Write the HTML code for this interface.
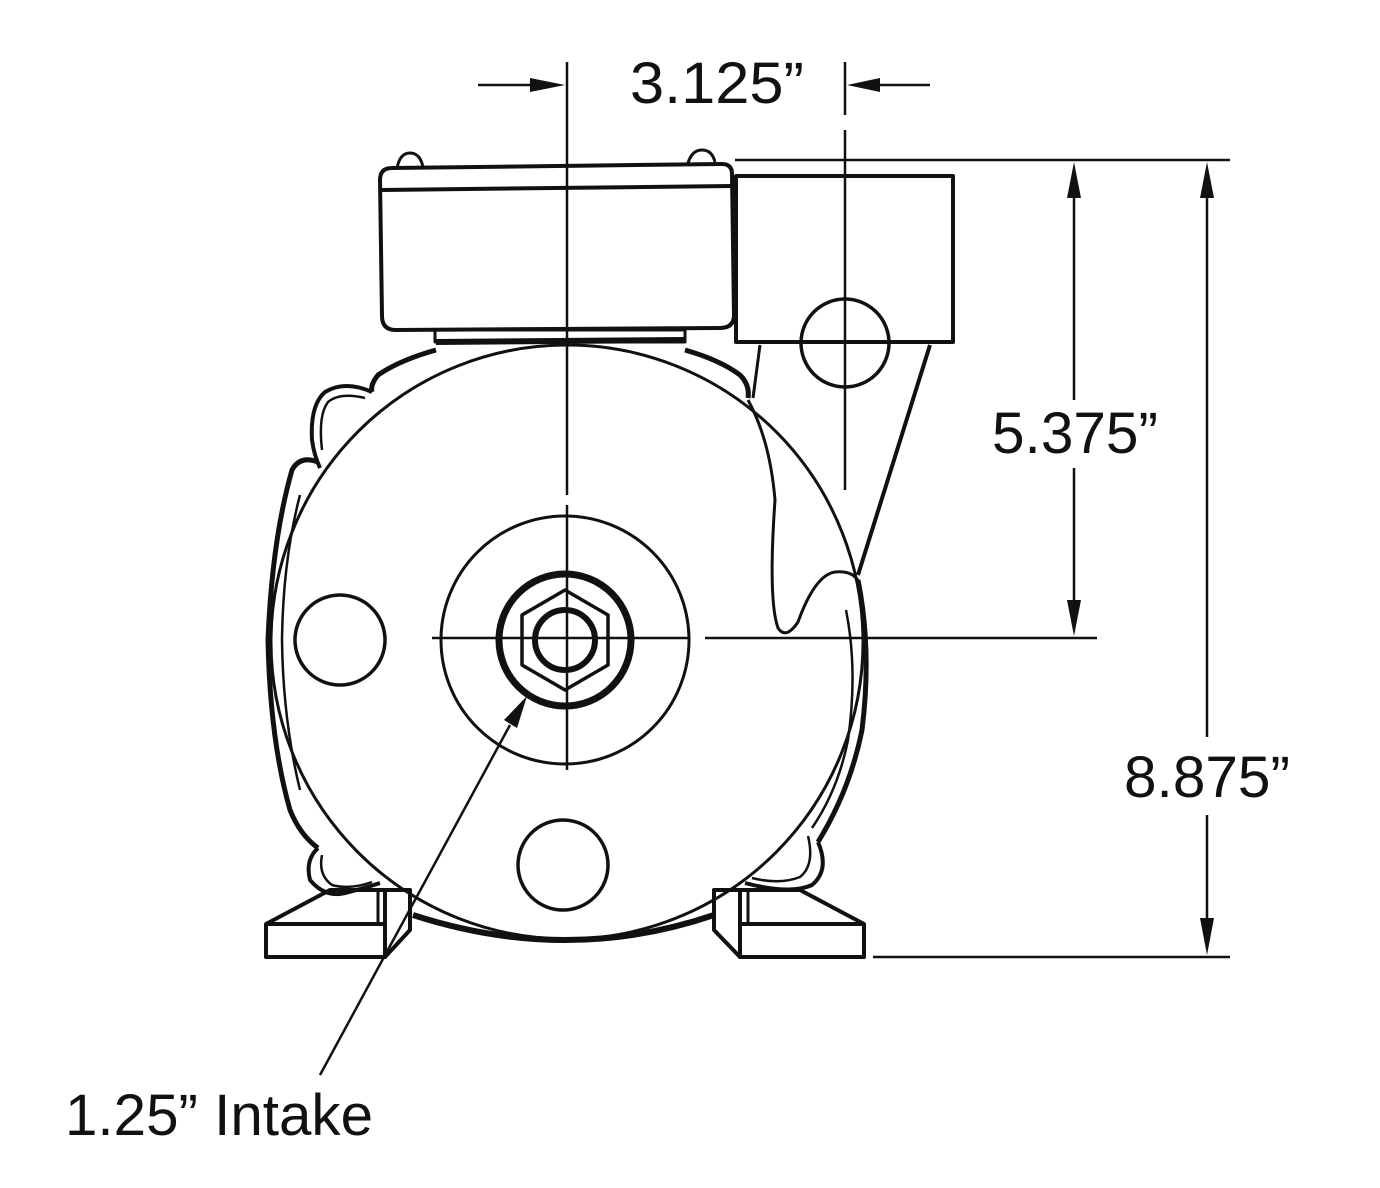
<!DOCTYPE html>
<html><head><meta charset="utf-8"><style>html,body{margin:0;padding:0;background:#fff}svg{display:block}</style></head>
<body>
<svg width="1380" height="1188" viewBox="0 0 1380 1188" xmlns="http://www.w3.org/2000/svg" font-family="Liberation Sans, Arial, sans-serif">
<g fill="none" stroke="#111" stroke-width="3" stroke-linejoin="round">
<!-- junction box -->
<path d="M392 168 L722 164 Q732 164 732 174 L734 315 Q734 328 720 328 L396 330 Q382 330 382 316 L380 180 Q380 168 392 168 Z" stroke-width="4"/>
<line x1="382" y1="190" x2="732" y2="186" stroke-width="4"/>
<path d="M397 168 Q400 153 410 153 Q420 153 423 167" stroke-width="3"/>
<path d="M688 163 Q692 150 702 150 Q712 150 715 162" stroke-width="3"/>
<rect x="435" y="330" width="250" height="12" stroke-width="3"/>
<line x1="436" y1="342" x2="684" y2="340" stroke-width="6"/>
<!-- right box -->
<rect x="736" y="176" width="217" height="166" stroke-width="4"/>
<line x1="735" y1="160" x2="1230" y2="160" stroke-width="2.5"/>
<!-- shoulders -->
<path d="M436 350 Q400 360 378 375 Q370 385 372 392" stroke-width="5"/>
<path d="M685 350 Q720 360 740 375 Q750 385 748 398" stroke-width="5"/>
<!-- left upper bump -->
<path d="M372 392 Q345 380 325 392 Q310 405 312 440 Q314 455 320 468" stroke-width="4"/>
<path d="M365 398 Q340 392 328 402 Q318 415 322 450" stroke-width="2.5"/>
<!-- left fins -->
<path d="M318 462 Q300 455 292 470 Q272 540 268 640 Q270 740 290 810 Q300 835 318 848" stroke-width="5"/>
<path d="M300 495 Q283 560 282 640 Q283 720 300 790" stroke-width="2.5"/>
<!-- left lower bump -->
<path d="M318 848 Q305 860 310 880 Q325 898 345 893 Q365 888 380 883" stroke-width="4"/>
<path d="M322 855 Q318 875 332 885 Q350 890 372 882" stroke-width="2.5"/>
<!-- right fins -->
<path d="M858 580 Q872 650 862 730 Q850 790 818 842" stroke-width="5"/>
<path d="M846 610 Q858 670 848 740 Q838 790 812 828" stroke-width="2.5"/>
<path d="M818 842 Q830 870 812 885 Q790 895 745 883" stroke-width="4"/>
<path d="M808 836 Q815 865 800 877 Q780 885 752 878" stroke-width="2.5"/>
<path d="M413 915 Q567 965 714 915" stroke-width="6"/>
<!-- main circle -->
<ellipse cx="567" cy="642" rx="296" ry="297" stroke-width="3"/>
<!-- volute -->
<path d="M760 345 L753 398" stroke-width="3"/>
<path d="M748 400 Q770 440 775 500 Q768 600 778 628 Q786 640 798 622 Q815 575 835 572 Q855 570 860 585" stroke-width="3"/>
<path d="M930 345 L858 575" stroke-width="4"/>
<circle cx="845" cy="343" r="44" stroke-width="3.5"/>
<!-- holes -->
<circle cx="340" cy="640" r="45" stroke-width="3.5"/>
<circle cx="563" cy="865" r="45" stroke-width="3.5"/>
<!-- hub -->
<circle cx="565" cy="640" r="124" stroke-width="3"/>
<circle cx="565" cy="640" r="66" stroke-width="7"/>
<polygon points="565,590 608,615 608,665 565,690 522,665 522,615" stroke-width="3.5"/>
<circle cx="565" cy="640" r="30" stroke-width="6"/>
<!-- feet -->
<path d="M266 924 L330 890 L385 890 L385 957 L266 957 Z" stroke-width="4"/>
<line x1="266" y1="924" x2="385" y2="924" stroke-width="4"/>
<path d="M385 890 L410 890 L410 930 L385 957" stroke-width="4"/>
<line x1="378" y1="892" x2="378" y2="922" stroke-width="3"/>
<path d="M864 924 L800 890 L740 890 L740 957 L864 957 Z" stroke-width="4"/>
<line x1="740" y1="924" x2="864" y2="924" stroke-width="4"/>
<path d="M740 890 L714 890 L714 930 L740 957" stroke-width="4"/>
<line x1="748" y1="892" x2="748" y2="922" stroke-width="3"/>
</g>
<!-- center lines & dims -->
<g stroke="#111" stroke-width="2.5" fill="none">
<line x1="567" y1="62" x2="567" y2="495"/>
<line x1="567" y1="505" x2="567" y2="770"/>
<line x1="845" y1="62" x2="845" y2="115"/>
<line x1="845" y1="130" x2="845" y2="490"/>
<line x1="432" y1="638" x2="690" y2="638"/>
<line x1="705" y1="638" x2="1097" y2="638"/>
<line x1="478" y1="85" x2="530" y2="85"/>
<line x1="880" y1="85" x2="930" y2="85"/>
<line x1="873" y1="957" x2="1230" y2="957"/>
<line x1="1074" y1="195" x2="1074" y2="400"/>
<line x1="1074" y1="468" x2="1074" y2="600"/>
<line x1="1207" y1="195" x2="1207" y2="737"/>
<line x1="1207" y1="815" x2="1207" y2="920"/>
<line x1="320" y1="1075" x2="510" y2="725"/>
</g>
<g fill="#111">
<polygon points="565,85 530,78 530,92"/>
<polygon points="847,85 880,78 880,92"/>
<polygon points="1074,162 1067,198 1081,198"/>
<polygon points="1074,636 1067,600 1081,600"/>
<polygon points="1207,162 1200,198 1214,198"/>
<polygon points="1207,955 1200,918 1214,918"/>
<polygon points="527,696 504,720 517,728"/>
</g>
<g fill="#111" font-size="58">
<text x="630" y="103" textLength="174" lengthAdjust="spacingAndGlyphs">3.125”</text>
<text x="992" y="453" textLength="166" lengthAdjust="spacingAndGlyphs">5.375”</text>
<text x="1124" y="797" textLength="166" lengthAdjust="spacingAndGlyphs">8.875”</text>
<text x="65" y="1135" textLength="308" lengthAdjust="spacingAndGlyphs">1.25” Intake</text>
</g>
</svg>
</body></html>
